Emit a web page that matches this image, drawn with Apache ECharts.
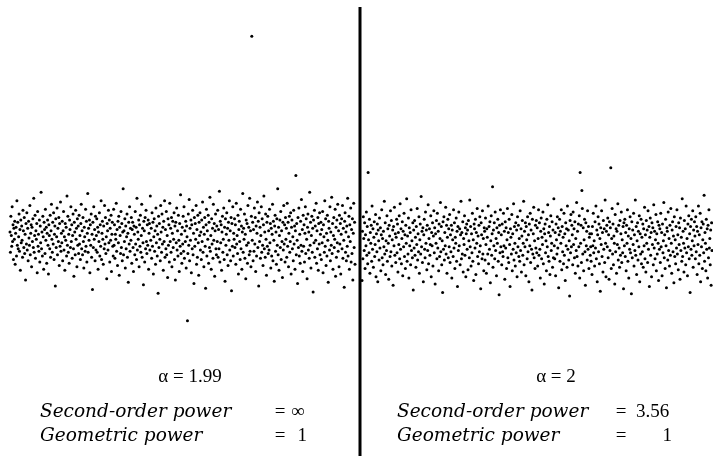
<!DOCTYPE html>
<html><head><meta charset="utf-8">
<script src="https://cdn.jsdelivr.net/npm/echarts@6/dist/echarts.min.js"></script>
<style>html,body{margin:0;padding:0;background:#fff}#c{width:713px;height:456px}</style>
</head><body><div id="c"></div>
<script>
// alpha = 1.99 panel (stable process samples, vertical values)
const seriesLeft = [
5,-12,18,2,-7,26,-3,11,-18,8,-1,14,-22,4,9,-15,31,-6,13,-9,1,20,-11,7,-27,15,-4,10,-2,-16,23,6,-8,17,-13,3,-35,12,-5,21,
-10,8,-19,14,0,-6,27,-14,4,11,-24,9,-3,16,-8,33,-12,2,19,-17,6,-1,12,-29,22,-7,3,-11,15,-20,10,-4,38,-9,5,-15,18,1,-26,13,
7,-13,24,-2,9,-21,4,15,-6,-30,11,2,-9,19,-16,6,28,-1,-12,13,-5,21,-18,3,10,-40,16,-8,1,25,-14,8,-3,17,-23,12,-7,30,-11,4,
-4,14,-19,6,22,-10,1,-27,12,-2,9,-15,35,-6,18,-12,3,-21,15,7,-8,26,-3,11,-17,2,20,-9,-32,13,5,-14,23,-1,8,-24,16,-6,10,-13,
19,-5,2,-18,12,28,-9,6,-14,17,-3,-25,9,1,-11,24,-7,14,-20,4,37,-12,8,-2,15,-29,11,-6,20,-16,3,-43,13,-8,26,-1,7,-19,18,-10,
2,16,-12,9,-26,5,-3,21,-15,11,-7,31,-18,4,14,-1,-22,10,-9,27,-5,17,-13,1,-34,12,6,-10,23,-4,15,-20,8,-2,19,-28,3,13,-7,-15,
24,-6,11,-17,3,-1,29,-11,7,-23,14,-4,18,-31,9,2,-13,22,-8,12,-19,5,41,-14,6,-3,16,-25,10,-9,1,20,-16,4,-37,13,-5,26,-11,8,
-2,17,-21,7,13,-8,-28,10,3,-14,22,-5,9,-18,33,-10,5,-1,15,-24,11,-7,19,-12,2,28,-16,8,-4,-39,14,6,-20,17,-9,23,-3,-13,11,-6,
15,-26,4,12,-10,35,-2,8,-17,21,-7,13,-30,1,16,-11,6,-22,25,-4,10,-15,3,-46,18,-8,12,-1,-19,27,5,-12,20,-5,9,-27,14,-3,31,-16,
7,-9,22,-14,2,-33,16,-6,11,-20,29,-3,8,-12,17,-24,4,14,-8,-1,21,-18,10,-35,13,-4,25,-10,6,-15,19,-2,-28,12,-7,36,-13,3,-21,9,
-5,18,-11,26,-17,6,-3,14,-25,10,1,-69,-13,20,-6,32,-19,8,-2,15,-29,11,-9,23,-14,4,-38,17,-7,12,-1,27,-22,7,-16,19,-4,-31,13,2,
21,-10,5,-18,15,-3,30,-12,9,-24,3,17,-7,-42,11,24,-15,6,-1,19,-21,13,-8,34,-11,2,-26,16,-5,8,-17,28,-2,12,-32,6,20,-9,-14,10,
-3,23,-16,7,-9,39,-20,14,-4,11,-27,5,18,-12,-1,25,-18,9,-36,16,-6,3,21,-14,8,-23,13,-2,31,-10,6,-19,17,-44,12,-7,26,-15,4,-1,
16,-8,11,-22,29,-5,2,-13,19,-30,7,14,-3,-18,24,-9,10,-26,5,37,-12,8,-1,20,-17,3,-34,15,-6,12,-21,27,-4,9,-14,33,-11,6,-24,18,
168,-2,13,-19,7,-11,25,-5,17,-28,10,-15,4,30,-8,14,-40,21,-3,9,-17,2,26,-12,16,-6,-23,11,35,-9,5,-16,20,-1,-31,13,-7,18,-13,6,
-10,24,-4,12,-25,8,-15,3,28,-19,14,-2,-36,10,19,-11,5,-22,16,-6,41,-14,9,-27,2,15,-8,22,-18,6,-3,-33,13,-10,27,-5,11,-20,17,-1,
8,-16,29,-7,13,-24,4,18,-12,-3,21,-30,9,15,-9,1,-19,23,-5,10,-26,6,52,-14,12,-2,-38,17,-8,25,-15,3,-21,14,-6,32,-11,7,-28,19,
-7,11,-20,4,26,-13,16,-1,-34,9,20,-10,5,-17,38,-6,13,-25,2,18,-12,8,-45,15,-4,23,-16,10,-2,29,-21,6,-9,17,-27,12,-5,21,-14,3,
13,-18,7,-4,22,-29,11,1,-12,31,-7,16,-23,4,-15,19,-2,-37,14,8,-10,26,-19,5,-6,34,-13,12,-26,2,17,-8,-1,24,-32,9,-16,15,-4,28,
-11,6,-24,19,-5,12,-30,3,16,-9,27,-17,8,-2,-41,14,21,-12,5,-19,10,-7,33,-15,1,18,-26,11,-3,25,-20,7,-13,16,-35,4,29,-8,13,-22
];
// alpha = 2 panel (Gaussian case)
const seriesRight = [
-32,9,-14,21,3,-7,16,-22,6,-3,25,-11,13,-18,58,2,-9,19,-26,8,-1,14,-16,30,-6,11,-21,4,17,-12,-2,23,-29,7,-8,15,-33,10,1,-15,
20,-5,12,-24,6,27,-13,3,-19,9,-4,34,-10,16,-27,1,-7,22,-16,11,-1,-31,14,5,-12,26,-8,18,-20,2,10,-36,13,-3,29,-11,7,-17,4,19,
-9,15,-25,8,-2,22,-14,32,-6,11,-18,3,17,-28,9,-4,24,-12,6,-22,14,-1,36,-16,5,-10,20,-30,12,-3,8,-19,27,-7,1,-13,16,-40,10,-5,
18,-11,4,-21,13,-2,28,-15,7,-8,21,-26,2,15,-10,38,-4,9,-17,12,-33,6,19,-6,-13,25,-1,10,-23,14,-7,31,-18,3,11,-11,-2,22,-29,8,
-3,16,-20,5,26,-9,12,-35,7,-1,18,-14,24,-5,9,-24,15,-12,3,33,-8,13,-19,1,-42,17,-6,21,-15,8,-3,29,-10,14,-26,4,19,-13,11,-4,
23,-17,6,-8,14,-30,10,2,-12,27,-5,16,-22,4,-1,20,-16,9,-37,13,-7,25,-3,11,-19,6,34,-14,8,-10,17,-25,3,-2,22,-11,12,-29,7,15,
-6,10,-23,18,1,-13,35,-4,13,-20,7,-9,24,-16,2,-32,15,11,-5,19,-27,8,-1,28,-12,5,-18,14,-8,21,-3,-39,16,6,-14,26,-10,3,-24,12,
9,-15,20,-2,-26,11,4,-10,30,-18,13,-6,17,-34,1,22,-11,7,46,-21,10,-3,16,-14,25,-7,3,-28,12,-1,19,-16,8,-44,14,-9,27,-4,6,-19,
15,-8,-12,24,-3,9,-31,17,-5,12,-22,2,28,-13,8,-17,19,-2,-37,11,4,-10,23,-24,7,-6,32,-15,13,-1,-20,16,-9,10,-29,21,-4,14,-12,3,
-16,26,-7,11,-25,5,18,-11,-1,34,-19,9,-4,16,-28,13,2,-14,21,-8,6,-33,15,-3,24,-17,10,-6,-40,19,-10,7,29,-13,1,-22,14,-5,18,-9,
12,-20,3,27,-11,16,-6,-30,9,20,-14,4,-2,25,-18,11,-35,7,15,-9,1,-24,19,-4,31,-12,8,-16,13,-27,5,22,-7,-1,17,-21,10,-13,36,-3,
-14,8,-28,15,2,-10,21,-5,12,-38,6,19,-16,9,-1,27,-23,13,-8,4,-18,24,-11,7,-32,16,-3,11,-21,30,-6,10,-15,1,-45,18,-9,23,-4,14,
6,-19,25,-2,11,-13,17,-26,3,-7,33,-12,9,-20,15,-4,22,-30,58,-1,14,-17,43,28,-10,12,-24,2,19,-8,-36,16,-3,9,-15,26,-6,13,-22,4,
7,-11,-4,-16,7,-27,13,-3,24,-9,1,-20,17,-5,30,-14,10,-33,6,21,-8,15,-18,3,-41,12,-2,26,-12,8,-25,18,-6,11,-17,35,-1,-29,9,14,
-4,20,-13,6,-31,17,-7,12,62,-22,3,28,-10,15,-19,5,-1,-35,23,-8,11,-26,9,-2,32,-15,14,-5,-21,18,-11,7,25,-17,2,-9,13,-39,16,-3,
19,-12,8,-24,14,-1,27,-16,5,-30,11,-6,21,-9,3,-43,17,-13,10,-2,24,-20,6,-7,35,-11,13,-27,1,16,-15,9,-4,22,-33,7,-10,19,-18,4,
-8,15,-21,11,-3,29,-14,6,-25,18,-1,10,-17,26,-6,13,-37,4,20,-11,8,-29,16,-2,12,-19,31,-5,9,-14,2,23,-24,7,-10,17,-1,-32,14,-6,
11,-17,24,-4,8,-28,15,-9,1,33,-13,6,-22,19,-3,-38,12,9,-15,25,-7,3,-20,14,-11,28,-1,-26,10,17,-8,5,-34,21,-12,2,-18,13,-5,27,
-10,6,-23,16,-2,12,-31,20,-7,4,-16,36,-12,9,-1,-25,18,-5,11,-19,30,-9,3,-28,15,-4,22,-14,7,-42,13,-6,19,-11,1,26,-21,10,-3,17,
5,-14,21,-8,13,-27,9,-2,30,-18,6,-11,24,-33,12,-4,17,-22,2,15,-9,39,-16,8,-1,-24,19,-6,11,-30,14,-13,27,-5,3,-19,10,-36,16,-7
];
const panelTitles = ['\u03b1 = 1.99', '\u03b1 = 2'];
const statLabels = ['Second-order power', 'Geometric power'];
const statLeft = ['\u221e', '1'];
const statRight = ['3.56', '1'];

const toPts = arr => arr.map((v, i) => [i, v]);
const chart = echarts.init(document.getElementById('c'), null, {renderer: 'canvas'});
const SERIF = '"Liberation Serif", serif';
const WIDE = '"DejaVu Serif", serif';
const txt = (x, y, s, font, align) => ({type: 'text', x: x, y: y,
  style: {text: s, fill: '#000', font: font, textAlign: align || 'left', textVerticalAlign: 'middle'}});
const numFont = '19px ' + SERIF;
const labFont = 'italic 18.5px ' + WIDE;
chart.setOption({
  animation: false,
  backgroundColor: '#fff',
  grid: [
    {left: 10, width: 345, top: 0, height: 456},
    {left: 362, width: 350, top: 0, height: 456}
  ],
  xAxis: [
    {gridIndex: 0, type: 'value', min: 0, max: seriesLeft.length - 1, show: false},
    {gridIndex: 1, type: 'value', min: 0, max: seriesRight.length - 1, show: false}
  ],
  yAxis: [
    {gridIndex: 0, type: 'value', min: -181.7, max: 198.3, show: false},
    {gridIndex: 1, type: 'value', min: -178.3, max: 201.7, show: false}
  ],
  series: [
    {type: 'scatter', xAxisIndex: 0, yAxisIndex: 0, data: toPts(seriesLeft), symbol: 'circle', symbolSize: 3,
     itemStyle: {color: '#000', opacity: 1}, silent: true},
    {type: 'scatter', xAxisIndex: 1, yAxisIndex: 1, data: toPts(seriesRight), symbol: 'circle', symbolSize: 3,
     itemStyle: {color: '#000', opacity: 1}, silent: true}
  ],
  graphic: [
    {type: 'line', shape: {x1: 360, y1: 7, x2: 360, y2: 456}, style: {stroke: '#000', lineWidth: 3}},
    txt(190, 377, panelTitles[0], numFont, 'center'),
    txt(556, 377, panelTitles[1], numFont, 'center'),
    txt(40, 412, statLabels[0], labFont),
    txt(40, 436, statLabels[1], labFont),
    txt(280, 412, '=', numFont, 'center'),
    txt(280, 436, '=', numFont, 'center'),
    txt(291, 412, statLeft[0], numFont),
    txt(307, 436, statLeft[1], numFont, 'right'),
    txt(397, 412, statLabels[0], labFont),
    txt(397, 436, statLabels[1], labFont),
    txt(621, 412, '=', numFont, 'center'),
    txt(621, 436, '=', numFont, 'center'),
    txt(636, 412, statRight[0], numFont),
    txt(672, 436, statRight[1], numFont, 'right')
  ]
});
</script></body></html>
